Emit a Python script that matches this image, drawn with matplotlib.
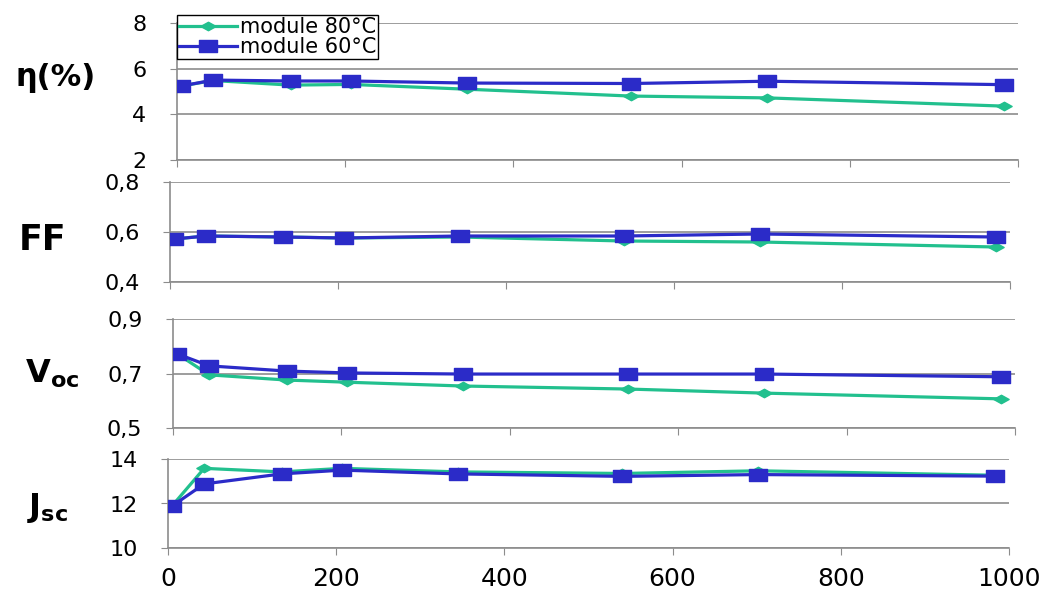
import matplotlib
matplotlib.use("Agg")
import matplotlib.pyplot as plt
from matplotlib.path import Path

W, H = 1061, 594

# data
x = [5, 43, 135, 207, 345, 540, 702, 983]
eta_80 = [5.24, 5.48, 5.28, 5.31, 5.10, 4.80, 4.72, 4.36]
eta_60 = [5.24, 5.50, 5.46, 5.46, 5.37, 5.35, 5.45, 5.30]
ff_80 = [0.572, 0.584, 0.580, 0.576, 0.580, 0.564, 0.560, 0.540]
ff_60 = [0.572, 0.584, 0.580, 0.576, 0.584, 0.584, 0.592, 0.580]
voc_80 = [0.772, 0.695, 0.676, 0.668, 0.654, 0.643, 0.628, 0.607]
voc_60 = [0.772, 0.728, 0.709, 0.702, 0.698, 0.698, 0.698, 0.688]
jsc_80 = [11.90, 13.58, 13.42, 13.58, 13.42, 13.35, 13.47, 13.27]
jsc_60 = [11.89, 12.88, 13.33, 13.50, 13.33, 13.22, 13.30, 13.23]

series_labels = ["module 80°C", "module 60°C"]
xticks = [0, 200, 400, 600, 800, 1000]
panel_labels = ["η(%)", "FF", r"$\mathbf{V_{oc}}$", r"$\mathbf{J_{sc}}$"]
yticks = [[2, 4, 6, 8], [0.4, 0.6, 0.8], [0.5, 0.7, 0.9], [10, 12, 14]]
yticklabels = [["2", "4", "6", "8"], ["0,4", "0,6", "0,8"], ["0,5", "0,7", "0,9"], ["10", "12", "14"]]

green = "#22C08E"
blue = "#2B2BC8"
grey = "#8C8C8C"

plt.rcParams["font.family"] = ["DejaVu Sans"]
plt.rcParams["mathtext.fontset"] = "dejavusans"

wide_square = Path([(-1.4, -1), (1.4, -1), (1.4, 1), (-1.4, 1), (-1.4, -1)],
                   [Path.MOVETO, Path.LINETO, Path.LINETO, Path.LINETO, Path.CLOSEPOLY])
wide_diamond = Path([(-1.8, 0), (0, 1), (1.8, 0), (0, -1), (-1.8, 0)],
                    [Path.MOVETO, Path.LINETO, Path.LINETO, Path.LINETO, Path.CLOSEPOLY])

fig = plt.figure(figsize=(W / 100, H / 100), dpi=100)

# pixel boxes: (x0 at data 0, x1 at data 1000, y_top, y_bottom)
boxes = [(177, 1018, 23, 160), (170, 1010, 182, 282), (173, 1015, 319, 428), (168, 1009, 459, 548)]
data = [(eta_80, eta_60), (ff_80, ff_60), (voc_80, voc_60), (jsc_80, jsc_60)]
label_pos = [(56, 78), (43, 240), (52, 374), (48, 508)]
label_sizes = [22, 25, 23, 23]

for i, ((x0, x1, yt, yb), (d80, d60)) in enumerate(zip(boxes, data)):
    ax = fig.add_axes([x0 / W, 1 - yb / H, (x1 - x0) / W, (yb - yt) / H])
    ax.plot(x, d80, color=green, lw=2.3, marker=wide_diamond, ms=11, label=series_labels[0], zorder=3)
    ax.plot(x, d60, color=blue, lw=2.3, marker=wide_square, ms=13, label=series_labels[1], zorder=4)
    ax.set_xlim(0, 1000)
    ax.set_ylim(yticks[i][0], yticks[i][-1])
    ax.set_yticks(yticks[i])
    ax.set_yticklabels(yticklabels[i])
    ax.set_xticks(xticks)
    ax.grid(axis="y", color=grey, lw=1.2)
    ax.set_axisbelow(True)
    for s in ["top", "right"]:
        ax.spines[s].set_visible(False)
    for s in ["left", "bottom"]:
        ax.spines[s].set_color(grey)
        ax.spines[s].set_linewidth(1.2)
    ax.spines["bottom"].set_zorder(1)
    ax.tick_params(axis="y", length=5, color=grey, labelsize=16, pad=17)
    ax.tick_params(axis="x", length=5, color=grey, labelsize=18, pad=9, direction="out")
    ax.patch.set_alpha(0)
    if i < 3:
        ax.set_xticklabels([])
    fig.text(label_pos[i][0] / W, 1 - label_pos[i][1] / H, panel_labels[i],
             fontsize=label_sizes[i], fontweight="bold", ha="center", va="center")
    if i == 0:
        leg = ax.legend(loc="upper left", bbox_to_anchor=(177 / W, 1 - 15 / H),
                        bbox_transform=fig.transFigure, fontsize=15, frameon=True,
                        fancybox=False, edgecolor="black", framealpha=1,
                        handlelength=2.8, handletextpad=0.1, labelspacing=0.0,
                        borderpad=0.1, borderaxespad=0)
        leg.get_frame().set_linewidth(1.0)

fig.savefig("out.png", dpi=100)
